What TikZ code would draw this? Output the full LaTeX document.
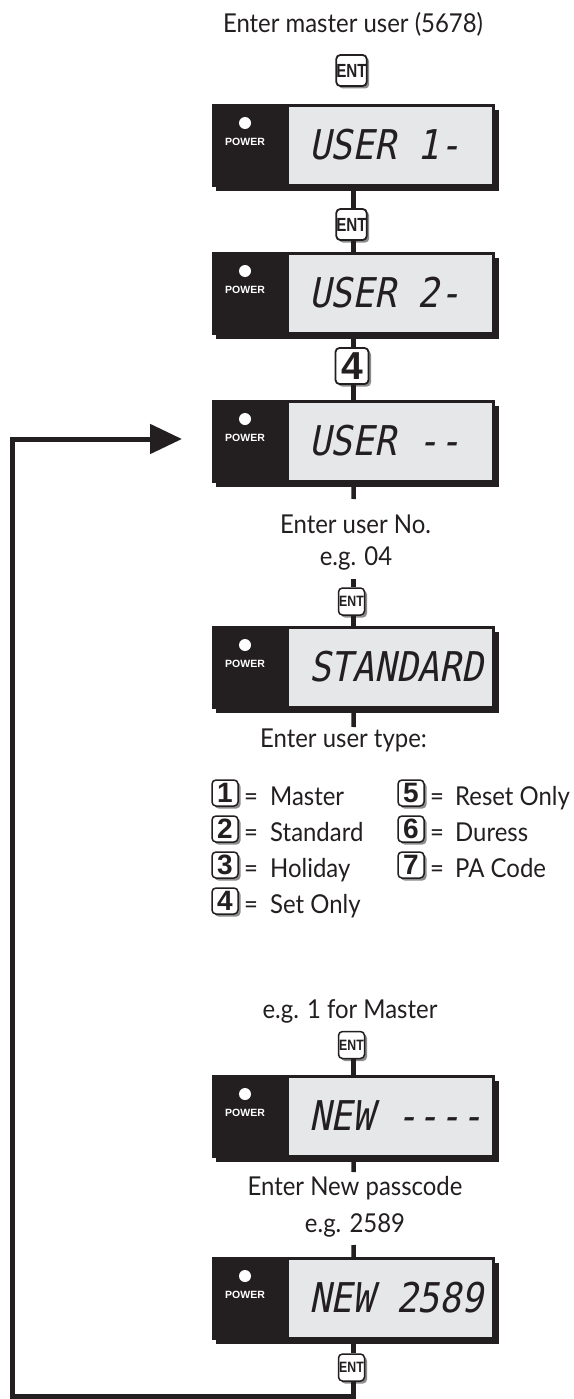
\documentclass[tikz,border=0pt]{standalone}
\usepackage{fontspec}
\usepackage{graphicx}
\setmainfont{Lato}[FakeStretch=0.92]
\newfontfamily\keyfont{Liberation Sans}
\newfontfamily\lcdfont{DejaVu Sans Mono}[FakeSlant=0.2,FakeStretch=0.88]
\usetikzlibrary{arrows.meta,shadows}
\definecolor{lcdgray}{HTML}{E6E7E8}
\definecolor{ink}{HTML}{231F20}
\tikzset{
 conn/.style={line width=4.5pt, draw=ink},
 loopline/.style={line width=5pt, draw=ink},
 keybox/.style={draw=ink, line width=1.8pt, fill=white, rounded corners=4pt, inner sep=0pt,
   drop shadow={shadow xshift=2.5pt, shadow yshift=-2.5pt, fill=black!45, opacity=1},
   font=\keyfont\bfseries, text=ink},
 bigent/.style={keybox, minimum width=30pt, minimum height=31pt},
 smallent/.style={keybox, minimum width=26pt, minimum height=27pt, line width=1.5pt},
 numkey/.style={keybox, minimum width=33pt, minimum height=36pt, font=\keyfont\bfseries\fontsize{39}{39}\selectfont},
 legkey/.style={keybox, minimum width=26pt, minimum height=26pt, line width=1.5pt, font=\keyfont\bfseries\fontsize{28}{28}\selectfont},
 dispbox/.style={fill=ink, minimum width=283pt, minimum height=83pt, inner sep=0pt, anchor=north west},
 lcdtxt/.style={font=\lcdfont\fontsize{41}{41}\selectfont, anchor=base west, inner sep=0pt, text=ink},
 powertxt/.style={font=\keyfont\bfseries\fontsize{10.5}{10.5}\selectfont, text=white, inner sep=0pt},
 lbl/.style={font=\fontsize{26}{26}\selectfont, text=ink, anchor=base, inner sep=0pt},
}
\newcommand\lcdpanel[3]{%
 \fill[ink] (216,#2+6) rectangle (499,#2+87);
 \node[dispbox] (#1) at (212,#2) {};
 \fill[lcdgray] (289,#2+3) rectangle (492,#2+80);
 \fill[white] (245,#2+19) circle[radius=6pt];
 \node[powertxt] at (245,#2+38) {POWER};
 \node[lcdtxt] (#1t) at (309,#2+55.5) {#3};
}
\newcommand\bigENT{\fontsize{19}{19}\selectfont\scalebox{0.8}[1]{ENT}}
\newcommand\smallENT{\fontsize{15}{15}\selectfont\scalebox{0.82}[1]{ENT}}
\begin{document}
\begin{tikzpicture}[x=1pt,y=-1pt]
\fill[white] (0,0) rectangle (573,1399);
\useasboundingbox (0,0) rectangle (573,1399);

% texts
\node[lbl] (t0) at (353,33) {Enter master user (5678)};
\node[lbl] (t1) at (355.5,533) {Enter user No.};
\node[lbl] (t2) at (356,565) {e.g. 04};
\node[lbl] (t3) at (343.5,747) {Enter user type:};
\node[lbl] (t4) at (350,1018) {e.g. 1 for Master};
\node[lbl] (t5) at (355,1195) {Enter New passcode};
\node[lbl] (t6) at (355,1232) {e.g. 2589};

% displays
\lcdpanel{D1}{104}{USER 1-}
\lcdpanel{D2}{252}{USER 2-}
\lcdpanel{D3}{400}{USER --}
\lcdpanel{D4}{626}{STANDARD}
\lcdpanel{D5}{1075}{NEW ----}
\lcdpanel{D6}{1257}{NEW 2589}

% keys
\node[bigent] (K1) at (351.5,70.5) {\bigENT};
\node[bigent] (K2) at (351.5,224.5) {\bigENT};
\node[numkey] (K3) at (352,366) {4};
\node[smallent] (K4) at (351.5,601.5) {\smallENT};
\node[smallent] (K5) at (351.5,1045) {\smallENT};
\node[smallent] (K6) at (351.5,1367.5) {\smallENT};

% legend
\node[legkey] (L1) at (225,793) {1};
\node[lbl] (e1) at (251,805) {=};
\node[lbl,anchor=base west] (m1) at (270,805) {Master};
\node[legkey] (L2) at (225,829) {2};
\node[lbl] (e2) at (251,841) {=};
\node[lbl,anchor=base west] (m2) at (270,841) {Standard};
\node[legkey] (L3) at (225,865) {3};
\node[lbl] (e3) at (251,877) {=};
\node[lbl,anchor=base west] (m3) at (270,877) {Holiday};
\node[legkey] (L4) at (225,901) {4};
\node[lbl] (e4) at (251,913) {=};
\node[lbl,anchor=base west] (m4) at (270,913) {Set Only};
\node[legkey] (L5) at (411,793) {5};
\node[lbl] (e5) at (437,805) {=};
\node[lbl,anchor=base west] (m5) at (455,805) {Reset Only};
\node[legkey] (L6) at (411,829) {6};
\node[lbl] (e6) at (437,841) {=};
\node[lbl,anchor=base west] (m6) at (455,841) {Duress};
\node[legkey] (L7) at (411,865) {7};
\node[lbl] (e7) at (437,877) {=};
\node[lbl,anchor=base west] (m7) at (455,877) {PA Code};

% connectors
\coordinate (c1) at (353.5,499);
\coordinate (c2) at (353.5,579);
\coordinate (c3) at (353.5,727);
\coordinate (c4) at (353.5,1172);
\coordinate (c5) at (353.5,1245);
\draw[conn] (D1.south) -- (D1.south |- K2.north);
\draw[conn] (K2.south -| D2.north) -- (D2.north);
\draw[conn] (D2.south) -- (D2.south |- K3.north);
\draw[conn] (K3.south -| D3.north) -- (D3.north);
\draw[conn] (D3.south) -- (c1);
\draw[conn] (c2) -- (c2 |- K4.north);
\draw[conn] (K4.south -| D4.north) -- (D4.north);
\draw[conn] (D4.south) -- (c3);
\draw[conn] (K5.south -| D5.north) -- (D5.north);
\draw[conn] (D5.south) -- (c4);
\draw[conn] (c5) -- (D6.north);
\draw[conn] (D6.south) -- (D6.south |- K6.north);

% loop back
\coordinate (bl) at (12,1396.5);
\coordinate (tip) at (182,439);
\draw[loopline, -{Triangle[length=32pt,width=29pt]}] (K6.south -| D6.south) |- (bl) |- (tip);
\end{tikzpicture}
\end{document}
